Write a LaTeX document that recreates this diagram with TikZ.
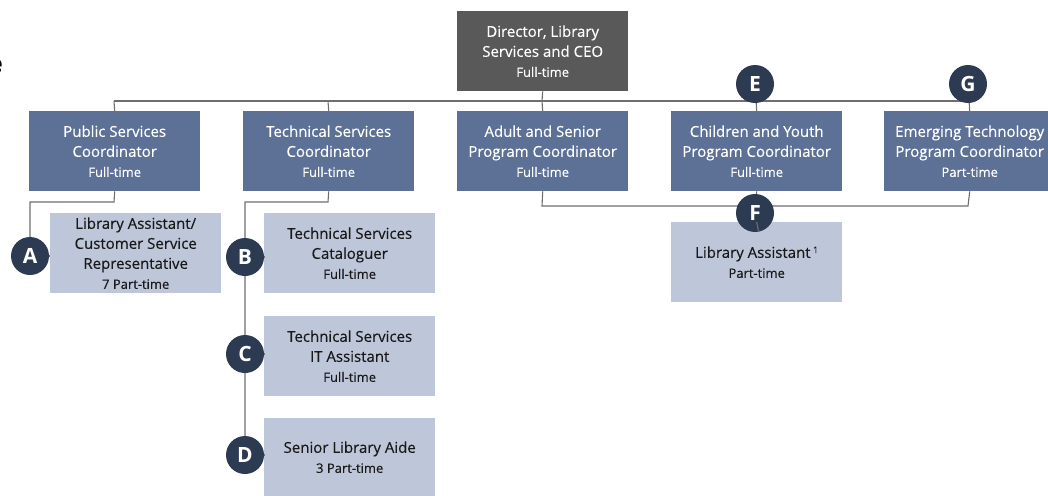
\documentclass[tikz,border=0pt]{standalone}
\usepackage{fontspec}
\setmainfont{Open Sans}
\newfontfamily\boxfont{Open Sans}[FakeBold=0.35]
\definecolor{dirgray}{HTML}{595959}
\definecolor{midblue}{HTML}{5D7096}
\definecolor{lightblue}{HTML}{BEC7DA}
\definecolor{navy}{HTML}{2C3A52}
\definecolor{linegray}{HTML}{6E6E6E}
\tikzset{
  box/.style={minimum width=171pt, minimum height=80pt, inner sep=0pt, align=center,
     font=\boxfont\fontsize{15}{20}\selectfont, anchor=north west},
  dirbox/.style={box, fill=dirgray, text=white},
  coordbox/.style={box, fill=midblue, text=white},
  staffbox/.style={box, fill=lightblue, text=black!90},
  badge/.style={circle, fill=navy, text=white, minimum size=38pt, inner sep=0pt,
     font=\fontsize{21}{21}\selectfont\bfseries},
  conn/.style={draw=linegray, line width=1.1pt},
  frag/.style={font=\fontsize{24}{24}\selectfont\bfseries, inner sep=0pt, anchor=east},
}
\newcommand{\sm}[1]{{\fontsize{13}{17}\selectfont #1}}
\begin{document}
\begin{tikzpicture}[x=1pt,y=-1pt]
\useasboundingbox (0,0) rectangle (1048,495);
\node[frag] (fragment) at (3,66) {e};
% nodes
\node[dirbox] (dir) at (457,11) {Director, Library\\Services and CEO\\\sm{Full-time}};
\node[coordbox] (pub) at (29,111) {Public Services\\Coordinator\\\sm{Full-time}};
\node[coordbox] (tech) at (243,111) {Technical Services\\Coordinator\\\sm{Full-time}};
\node[coordbox] (adult) at (457,111) {Adult and Senior\\Program Coordinator\\\sm{Full-time}};
\node[coordbox] (child) at (671,111) {Children and Youth\\Program Coordinator\\\sm{Full-time}};
\node[coordbox] (emer) at (884,111) {Emerging Technology\\Program Coordinator\\\sm{Part-time}};
\node[staffbox] (libcs) at (50,213) {Library Assistant/\\Customer Service\\Representative\\\sm{7 Part-time}};
\node[staffbox] (cat) at (264,213) {Technical Services\\Cataloguer\\\sm{Full-time}};
\node[staffbox] (itas) at (264,316) {Technical Services\\IT Assistant\\\sm{Full-time}};
\node[staffbox, minimum height=78pt] (aide) at (264,418) {Senior Library Aide\\\sm{3 Part-time}};
\node[staffbox] (libas) at (671,222) {Library Assistant\,\raisebox{0.6ex}{\fontsize{9}{9}\selectfont 1}\\\sm{Part-time}};
% coordinates
\coordinate (hl) at (114,101);
\coordinate (hr) at (968,101);
\coordinate (dirj) at (542,101);
\coordinate (tj) at (328,101);
\coordinate (pj1) at (114,202);
\coordinate (pj2) at (30,202);
\coordinate (tj1) at (328,202);
\coordinate (tj2) at (245,202);
\coordinate (aj) at (542,206);
\coordinate (ej) at (968,206);
% lines
\draw[conn] (hl) -- (hr);
\draw[conn] (dir.south) -- (dirj);
\draw[conn] (hl) -- (pub.north);
\draw[conn] (tj) -- (tech.north);
\draw[conn] (dirj) -- (adult.north);
\draw[conn] (pub.south) -- (pj1) -- (pj2) -- (30,256);
\draw[conn] (tech.south) -- (tj1) -- (tj2) -- (245,455);
\draw[conn] (adult.south) -- (aj) -- (ej) -- (emer.south);
% badges
\node[badge] (A) at (30,256) {A};
\node[badge] (B) at (245,257) {B};
\node[badge] (C) at (245,354) {C};
\node[badge] (D) at (245,455) {D};
\node[badge] (E) at (755,84) {E};
\node[badge] (G) at (968,84) {G};
\node[badge] (F) at (755,213) {F};
\draw[conn] (E) -- (child.north);
\draw[conn] (G) -- (emer.north);
\draw[conn] (child.south) -- (F);
\draw[conn] (F) -- (libas.north);
\draw[conn] (A) -- (libcs.west|-A);
\draw[conn] (B) -- (cat.west|-B);
\draw[conn] (C) -- (itas.west|-C);
\draw[conn] (D) -- (aide.west|-D);
\end{tikzpicture}
\end{document}
